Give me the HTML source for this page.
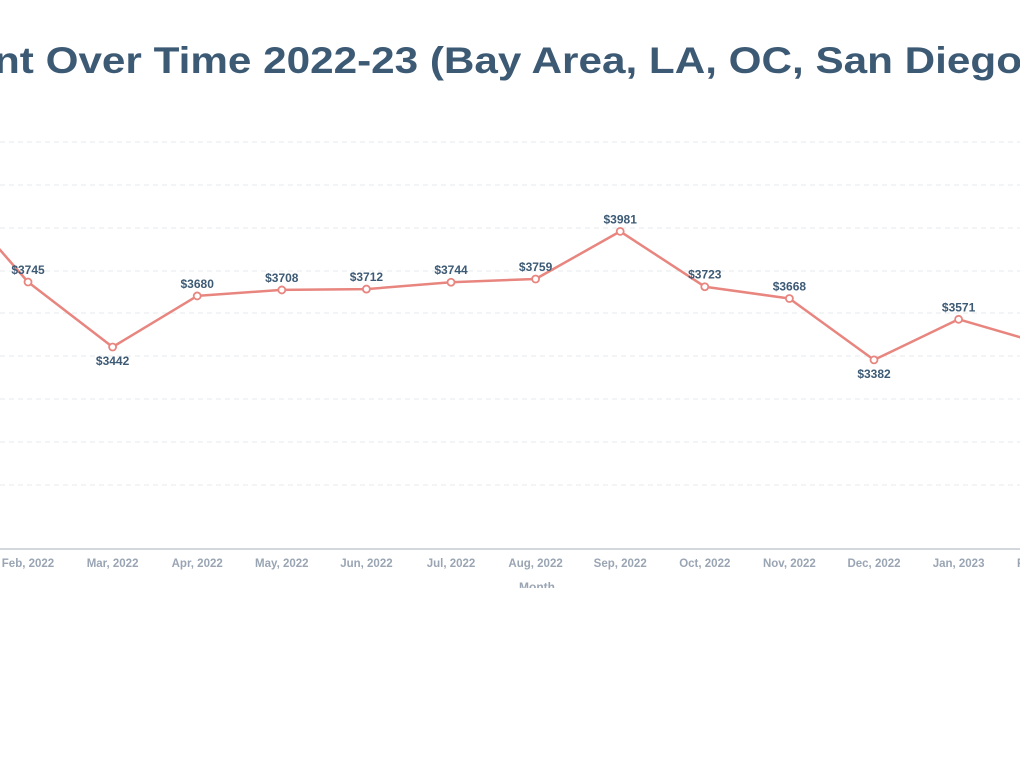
<!DOCTYPE html>
<html><head><meta charset="utf-8"><style>
html,body{margin:0;padding:0;background:#fff;width:1020px;height:764px;overflow:hidden}
svg{display:block}
</style></head><body>
<svg id="c" width="1020" height="764" xmlns="http://www.w3.org/2000/svg">
<text x="-6" y="73" font-family="Liberation Sans, sans-serif" font-weight="bold" font-size="37" fill="#3d5a75" textLength="1028" lengthAdjust="spacingAndGlyphs">nt Over Time 2022-23 (Bay Area, LA, OC, San Diego</text>
<text x="-10" y="73" text-anchor="end" font-family="Liberation Sans, sans-serif" font-weight="bold" font-size="37" fill="#3d5a75">Average Re</text>
<text x="1048" y="73" font-family="Liberation Sans, sans-serif" font-weight="bold" font-size="37" fill="#3d5a75">)</text>
<g id="g"></g>
</svg>
<script>
var g=document.getElementById('g'),s='';
[142,185,228,271,313,356,399,442,485].forEach(function(y){s+='<line x1="0" x2="1020" y1="'+y+'" y2="'+y+'" stroke="#e6e8ec" stroke-width="1" stroke-dasharray="5,4"/>';});
s+='<line x1="0" x2="1020" y1="549" y2="549" stroke="#d3d7de" stroke-width="2"/>';
var vals=[4197,3745,3442,3680,3708,3712,3744,3759,3981,3723,3668,3382,3571,3456];
var labs=['Jan, 2022','Feb, 2022','Mar, 2022','Apr, 2022','May, 2022','Jun, 2022','Jul, 2022','Aug, 2022','Sep, 2022','Oct, 2022','Nov, 2022','Dec, 2022','Jan, 2023','Feb, 2023'];
var below={2:1,11:1};
function X(i){return 28+(i-1)*84.6;}
function Y(v){return 282-(v-3745)*0.2145;}
var pts=vals.map(function(v,i){return X(i).toFixed(1)+','+Y(v).toFixed(1);}).join(' ');
s+='<polyline points="'+pts+'" fill="none" stroke="#e8857f" stroke-width="2.5" stroke-linejoin="round"/>';
vals.forEach(function(v,i){
 var x=X(i),y=Y(v);
 s+='<circle cx="'+x+'" cy="'+y+'" r="3.5" fill="#fff" stroke="#e8857f" stroke-width="1.8"/>';
 var ly=below[i]?y+18:y-8;
 s+='<text x="'+x+'" y="'+ly+'" text-anchor="middle" font-family="Liberation Sans, sans-serif" font-weight="bold" font-size="12" fill="#3d5a75">$'+v+'</text>';
 s+='<text x="'+x+'" y="567" text-anchor="middle" font-family="Liberation Sans, sans-serif" font-weight="bold" font-size="11.5" fill="#9aa5b4">'+labs[i]+'</text>';
});
s+='<svg x="0" y="575" width="1020" height="13"><text x="537" y="16" text-anchor="middle" font-family="Liberation Sans, sans-serif" font-weight="bold" font-size="12" fill="#9aa5b4">Month</text></svg>';
g.innerHTML=s;
</script>
</body></html>
